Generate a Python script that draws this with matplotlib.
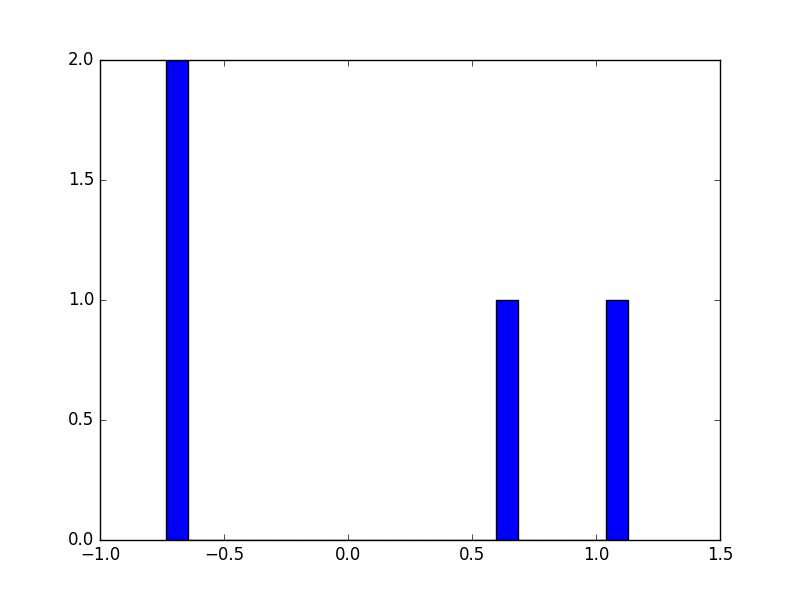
import matplotlib
matplotlib.use('Agg')
import matplotlib.pyplot as plt

# sample values
values = [-0.734, -0.734, 0.64, 1.131]
n_bins = 21

plt.style.use('classic')
fig = plt.figure(figsize=(8, 6), dpi=100)
plt.hist(values, bins=n_bins)
plt.xlim(-1.0, 1.5)
plt.ylim(0, 2.0)
plt.savefig('out.png', dpi=100)
